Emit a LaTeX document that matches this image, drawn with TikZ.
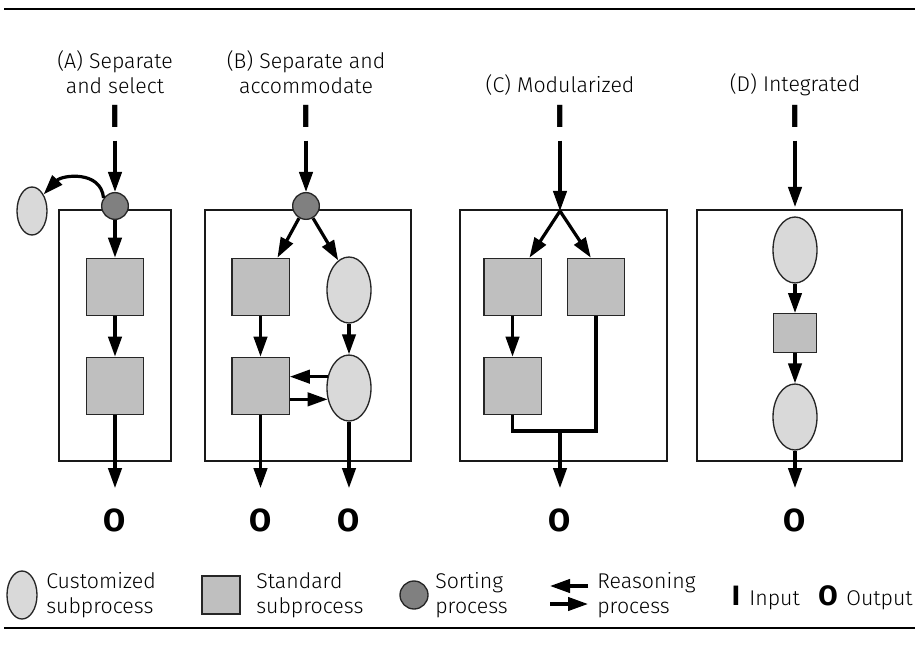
\documentclass[tikz,border=0pt]{standalone}
\usepackage{fontspec}
\IfFontExistsTF{Fira Sans Book}{\setmainfont{Fira Sans Book}[BoldFont=Fira Sans Bold]}{\setmainfont{Fira Sans Light}[BoldFont=Fira Sans Bold]}
\usetikzlibrary{arrows.meta,shapes.geometric}

\begin{document}
\begin{tikzpicture}[x=0.75pt,y=0.75pt,yscale=-1,xscale=1,
  custom/.style={ellipse,draw=black!85,fill=black!15,line width=1pt,inner sep=0pt,minimum width=33pt,minimum height=49.5pt},
  standard/.style={rectangle,draw=black!85,fill=black!25,line width=1pt,inner sep=0pt,minimum size=43pt},
  sorting/.style={circle,draw=black!85,fill=black!50,line width=1pt,inner sep=0pt,minimum size=20pt},
  frame/.style={draw=black!90,line width=1pt},
  flow/.style={-{Triangle[length=15pt,width=10pt]},line width=2.4pt},
  link/.style={line width=2.4pt},
  io/.style={font=\fontsize{24}{24}\selectfont\bfseries,inner sep=0pt},
  heading/.style={font=\fontsize{16}{19}\selectfont,align=center,inner sep=0pt},
  legtext/.style={font=\fontsize{16}{19}\selectfont,align=left,inner sep=0pt}]
\useasboundingbox (0,0) rectangle (919,648);

%Rules
\draw[line width=2.2pt] (4,9) -- (915,9);
\draw[line width=1.1pt] (4,628) -- (915,628);

%Frames
\draw[frame] (59,210) rectangle (171,461);
\draw[frame] (205,210) rectangle (411,461);
\draw[frame] (460,210) rectangle (667,461);
\draw[frame] (697,210) rectangle (902,461);

% Text Node
\node[heading] (tA) at (115,72) {(A) Separate\\and select};
\node[heading] (tB) at (306,72) {(B) Separate and\\accommodate};
\node[heading] (tC) at (560,85) {(C) Modularized};
\node[heading] (tD) at (795,85) {(D) Integrated};

%Inputs and outputs
\node[io] (iA) at (115,116) {I};
\node[io] (iB) at (306,116) {I};
\node[io] (iC) at (560,116) {I};
\node[io] (iD) at (795,116) {I};
\node[io] (oA) at (115,520) {O};
\node[io] (oB1) at (260.5,520) {O};
\node[io] (oB2) at (349,520) {O};
\node[io] (oC) at (560,520) {O};
\node[io] (oD) at (795,520) {O};

%(A) Separate and select
\node[sorting] (sA) at (115,206) {};
\node[custom,minimum width=22.5pt,minimum height=36pt] (cA) at (32,211) {};
\node[standard] (a1) at (115,287) {};
\node[standard] (a2) at (115,386) {};
\draw[flow,shorten <=10pt] (iA) -- (sA);
\draw[flow] (sA.145) .. controls (101,170) and (62,175) .. (cA.55);
\draw[flow] (sA) -- (a1);
\draw[flow] (a1) -- (a2);
\draw[flow,shorten >=15pt] (a2) -- (oA);

%(B) Separate and accommodate
\node[sorting] (sB) at (306,206) {};
\node[standard] (b1) at (260.5,287) {};
\node[standard] (b2) at (260.5,386) {};
\node[custom] (e1) at (349,290) {};
\node[custom] (e2) at (349,388) {};
\draw[flow,shorten <=10pt] (iB) -- (sB);
\draw[flow] (sB.240) -- (b1.60);
\draw[flow] (sB.300) -- (e1.110);
\draw[flow] (b1) -- (b2);
\draw[flow] (e1) -- (e2);
\draw[flow] (e2.152) -- (e2.152 -| b2.east);
\draw[flow] (b2.east |- e2.208) -- (e2.208);
\draw[flow,shorten >=15pt] (b2) -- (oB1);
\draw[flow,shorten >=15pt] (e2) -- (oB2);

%(C) Modularized
\coordinate (splitC) at (560,211);
\coordinate (joinC) at (560,431);
\node[standard] (c1) at (512.5,287) {};
\node[standard] (c2) at (596,287) {};
\node[standard] (c3) at (512.5,386) {};
\draw[flow,shorten <=10pt] (iC) -- (splitC);
\draw[flow] (splitC) -- (c1.60);
\draw[flow] (splitC) -- (c2.100);
\draw[flow] (c1) -- (c3);
\draw[link] (c3.south) |- (joinC) -| (c2.south);
\draw[flow,shorten >=15pt] (joinC) -- (oC);

%(D) Integrated
\coordinate (entD) at (795,207);
\node[custom] (d1) at (795,250) {};
\node[standard,minimum width=32pt,minimum height=29pt] (d2) at (795,333) {};
\node[custom] (d3) at (795,417) {};
\draw[flow,shorten <=10pt] (iD) -- (entD);
\draw[flow] (d1) -- (d2);
\draw[flow] (d2) -- (d3);
\draw[flow,shorten >=15pt] (d3) -- (oD);

%Legend
\node[custom,minimum width=22.5pt,minimum height=36pt] (lgC) at (22,595) {};
\node[legtext,anchor=west] (lgCt) at (46,595) {Customized\\subprocess};
\node[standard,minimum size=28.5pt] (lgS) at (221,595) {};
\node[legtext,anchor=west] (lgSt) at (256,595) {Standard\\subprocess};
\node[sorting,minimum size=21pt] (lgP) at (414,595) {};
\node[legtext,anchor=west] (lgPt) at (435,595) {Sorting\\process};
\coordinate (rL1) at (550,586);
\coordinate (rR1) at (588,586);
\coordinate (rL2) at (550,604);
\coordinate (rR2) at (588,604);
\draw[flow] (rR1) -- (rL1);
\draw[flow] (rL2) -- (rR2);
\node[legtext,anchor=west] (lgRt) at (597,595) {Reasoning\\process};
\node[io,font=\fontsize{21}{21}\selectfont\bfseries,anchor=base] (lgI) at (736,605) {I};
\node[legtext,anchor=base west] (lgIt) at (749,605) {Input};
\node[io,font=\fontsize{21}{21}\selectfont\bfseries,anchor=base] (lgO) at (828,605) {O};
\node[legtext,anchor=base west] (lgOt) at (846,605) {Output};

\end{tikzpicture}
\end{document}
